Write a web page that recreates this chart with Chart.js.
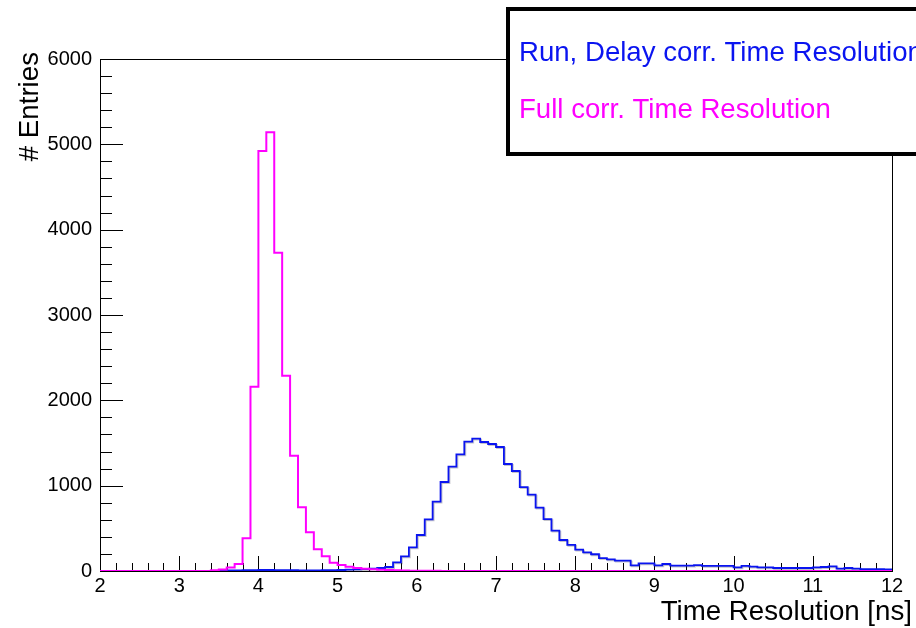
<!DOCTYPE html>
<html>
<head>
<meta charset="utf-8">
<script src="https://cdn.jsdelivr.net/npm/chart.js@4/dist/chart.umd.min.js"></script>
<style>
  html, body { margin: 0; padding: 0; background: #fff; }
  canvas { display: block; }
</style>
</head>
<body>
<canvas id="chart" width="916" height="628"></canvas>
<script>
// 100 bins of 0.1 ns between 2 and 12 ns
const binEdges = Array.from({ length: 101 }, (_, i) => +(2 + i * 0.1).toFixed(1));

const runDelayCounts = [
  0, 0, 0, 0, 0, 0, 0, 0, 0, 0,
  0, 0, 0, 0, 2, 4, 6, 8, 10, 11,
  12, 12, 11, 10, 9, 8, 8, 8, 9, 10,
  12, 15, 18, 22, 27, 35, 47, 102, 172, 277,
  422, 605, 812, 1043, 1223, 1367, 1516, 1551, 1512, 1488,
  1453, 1254, 1172, 984, 894, 742, 609, 473, 363, 305,
  250, 219, 196, 152, 137, 121, 121, 66, 90, 90,
  66, 82, 62, 62, 62, 70, 59, 59, 59, 59,
  43, 59, 51, 43, 43, 35, 35, 35, 35, 35,
  43, 47, 55, 27, 35, 27, 23, 23, 23, 20
];

const fullCorrCounts = [
  0, 0, 0, 0, 0, 0, 0, 0, 0, 0,
  0, 0, 0, 0, 8, 18, 42, 82, 383, 2160,
  4922, 5141, 3730, 2289, 1352, 746, 453, 256, 172, 96,
  70, 51, 35, 27, 20, 15, 11, 8, 6, 4,
  3, 2, 2, 1, 1, 0, 0, 0, 0, 0,
  0, 0, 0, 0, 0, 0, 0, 0, 0, 0,
  0, 0, 0, 0, 0, 0, 0, 0, 0, 0,
  0, 0, 0, 0, 0, 0, 0, 0, 0, 0,
  0, 0, 0, 0, 0, 0, 0, 0, 0, 0,
  0, 0, 0, 0, 0, 0, 0, 0, 0, 0
];

const xTickLabels = [2, 3, 4, 5, 6, 7, 8, 9, 10, 11, 12];
const yTickLabels = [0, 1000, 2000, 3000, 4000, 5000, 6000];
const xMinorPerMajor = 5;
const yMinorPerMajor = 5;

const seriesLabels = ['Run, Delay corr. Time Resolution', 'Full corr. Time Resolution'];
const seriesColors = ['rgb(10, 20, 240)', '#ff00ff'];

const FONT = '"Liberation Sans", Arial, sans-serif';

// step outline: each bin's value runs from its lower edge to the next one
function histPoints(counts) {
  return binEdges.map((x, i) => ({ x, y: counts[Math.max(i - 1, 0)] }));
}

// ROOT-like frame: axes with inward ticks, box around the pad
const framePlugin = {
  id: 'frame',
  beforeDatasetsDraw(chart) {
    const { ctx, chartArea: a, scales: { x, y } } = chart;
    ctx.save();
    ctx.strokeStyle = '#000';
    ctx.lineWidth = 1;
    ctx.strokeRect(a.left + 0.5, a.top + 0.5, a.right - a.left, a.bottom - a.top);

    ctx.beginPath();
    for (let i = 0; i < xTickLabels.length; i++) {
      const px = Math.round(x.getPixelForValue(xTickLabels[i])) + 0.5;
      ctx.moveTo(px, a.bottom);
      ctx.lineTo(px, a.bottom - 15);
      if (i < xTickLabels.length - 1) {
        const step = (xTickLabels[i + 1] - xTickLabels[i]) / xMinorPerMajor;
        for (let k = 1; k < xMinorPerMajor; k++) {
          const mx = Math.round(x.getPixelForValue(xTickLabels[i] + k * step)) + 0.5;
          ctx.moveTo(mx, a.bottom);
          ctx.lineTo(mx, a.bottom - 8);
        }
      }
    }
    for (let i = 0; i < yTickLabels.length; i++) {
      const py = Math.round(y.getPixelForValue(yTickLabels[i])) + 0.5;
      ctx.moveTo(a.left, py);
      ctx.lineTo(a.left + 23, py);
      if (i < yTickLabels.length - 1) {
        const step = (yTickLabels[i + 1] - yTickLabels[i]) / yMinorPerMajor;
        for (let k = 1; k < yMinorPerMajor; k++) {
          const my = Math.round(y.getPixelForValue(yTickLabels[i] + k * step)) + 0.5;
          ctx.moveTo(a.left, my);
          ctx.lineTo(a.left + 12, my);
        }
      }
    }
    ctx.stroke();

    // axis titles
    ctx.fillStyle = '#000';
    ctx.font = '27.7px ' + FONT;
    ctx.textAlign = 'right';
    ctx.textBaseline = 'alphabetic';
    ctx.fillText(x.options.title.text, a.right + 20, 620);
    ctx.save();
    ctx.translate(38, 52);
    ctx.rotate(-Math.PI / 2);
    ctx.fillText(y.options.title.text, 0, 0);
    ctx.restore();
    ctx.restore();
  },
  // the run/delay outline carries a faint dark edge
  beforeDatasetDraw(chart, args) {
    if (args.meta.order !== 2) return;
    const ctx = chart.ctx;
    ctx.save();
    ctx.shadowColor = 'rgba(60, 60, 80, 0.3)';
    ctx.shadowOffsetX = 1;
    ctx.shadowOffsetY = 1;
  },
  afterDatasetDraw(chart, args) {
    if (args.meta.order !== 2) return;
    chart.ctx.restore();
  },
  afterDraw(chart) {
    const { ctx } = chart;
    ctx.save();
    ctx.fillStyle = '#fff';
    ctx.fillRect(508, 9, 420, 145);
    ctx.strokeStyle = '#000';
    ctx.lineWidth = 4;
    ctx.strokeRect(508, 9, 420, 145);
    ctx.font = '27.6px ' + FONT;
    ctx.textAlign = 'left';
    ctx.textBaseline = 'alphabetic';
    chart.data.datasets
      .slice()
      .sort((p, q) => q.order - p.order)
      .forEach((ds, i) => {
        ctx.fillStyle = ds.borderColor;
        ctx.fillText(ds.label, 519, 61 + i * 57);
      });
    ctx.restore();
  }
};

new Chart(document.getElementById('chart'), {
  type: 'line',
  data: {
    datasets: [
      {
        label: seriesLabels[0],
        data: histPoints(runDelayCounts),
        borderColor: seriesColors[0],
        borderWidth: 1.8,
        stepped: 'after',
        pointRadius: 0,
        fill: false,
        order: 2
      },
      {
        label: seriesLabels[1],
        data: histPoints(fullCorrCounts),
        borderColor: seriesColors[1],
        borderWidth: 2,
        stepped: 'after',
        pointRadius: 0,
        fill: false,
        order: 1
      }
    ]
  },
  options: {
    responsive: false,
    animation: false,
    events: [],
    layout: { padding: { top: 59, right: 24, left: 0, bottom: 0 } },
    plugins: { legend: { display: false }, tooltip: { enabled: false } },
    scales: {
      x: {
        type: 'linear',
        min: 2,
        max: 12,
        title: { display: false, text: 'Time Resolution [ns]' },
        afterFit: (s) => { s.height = 57; },
        afterBuildTicks: (s) => { s.ticks = xTickLabels.map((v) => ({ value: v })); },
        ticks: {
          autoSkip: false,
          maxRotation: 0,
          padding: 3,
          color: '#000',
          font: { family: FONT, size: 20 }
        },
        grid: { display: false, drawTicks: false },
        border: { display: false }
      },
      y: {
        type: 'linear',
        min: 0,
        max: 6000,
        title: { display: false, text: '# Entries' },
        afterFit: (s) => { s.width = 100; },
        afterBuildTicks: (s) => { s.ticks = yTickLabels.map((v) => ({ value: v })); },
        ticks: {
          autoSkip: false,
          padding: 8,
          color: '#000',
          font: { family: FONT, size: 20 },
          callback: (v) => String(v)
        },
        grid: { display: false, drawTicks: false },
        border: { display: false }
      }
    }
  },
  plugins: [framePlugin]
});
</script>
</body>
</html>
